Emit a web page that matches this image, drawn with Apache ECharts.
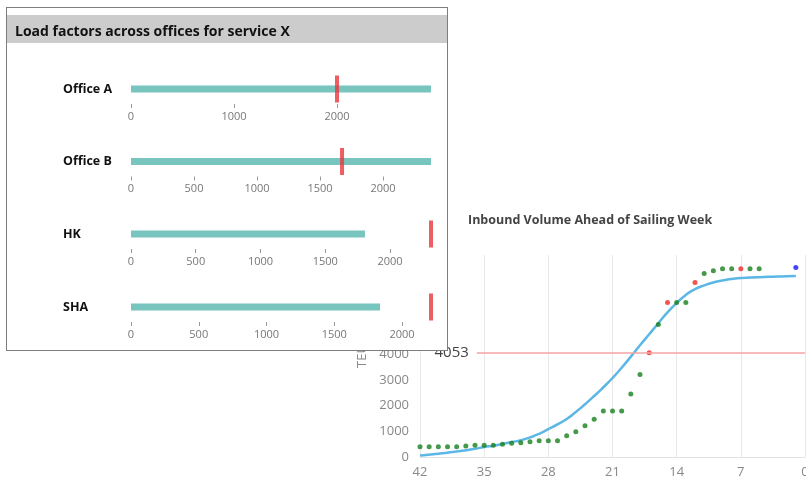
<!DOCTYPE html>
<html>
<head>
<meta charset="utf-8">
<script src="https://cdn.jsdelivr.net/npm/echarts@6/dist/echarts.min.js"></script>
<style>
  html, body { margin: 0; padding: 0; background: #fff; overflow: hidden; }
  #volume { position: absolute; left: 0; top: 0; width: 806px; height: 479px; }
  #load { position: absolute; left: 6px; top: 7px; width: 442px; height: 344px;
          box-sizing: border-box; border: 1px solid #7d7d7d; background: #fff; z-index: 2; }
</style>
</head>
<body>
<div id="volume"></div>
<div id="load"></div>
<script>
// ---- Load factors (bullet rows) ----
const offices = ['Office A', 'Office B', 'HK', 'SHA'];
const officeActual = [2913, 2381, 1807, 1838];
const officeTarget = [2000, 1675, 2317, 2214];
const officeTicks = [
  [0, 1000, 2000],
  [0, 500, 1000, 1500, 2000],
  [0, 500, 1000, 1500, 2000],
  [0, 500, 1000, 1500, 2000]
];

// ---- Inbound volume vs. days ahead of sailing ----
const curveDays = [42, 40, 38, 36, 35, 34, 33, 32, 31, 30, 29, 28, 27, 26, 25, 24, 23, 22, 21, 20,
                   19, 18, 17, 16, 15, 14, 13, 12, 11, 10, 9, 8, 7, 6, 5, 4, 3, 2, 1];
const curveTeu = [60, 130, 210, 320, 390, 440, 510, 580, 650, 760, 900, 1080, 1270, 1480, 1750, 2050, 2370, 2710, 3070, 3470,
                  3900, 4340, 4770, 5200, 5620, 5980, 6300, 6520, 6670, 6780, 6860, 6920, 6955, 6975, 6990, 7000, 7010, 7020, 7030];
const greenDays = [42, 41, 40, 39, 38, 37, 36, 35, 34, 33, 32, 31, 30, 29, 28, 27, 26, 25, 24, 23, 22, 21, 20, 19, 18,
                   16, 14, 13, 11, 10, 9, 8, 6, 5];
const greenTeu = [400, 400, 400, 400, 400, 427, 453, 453, 453, 492, 531, 557, 595, 634, 634, 634, 828, 984, 1217, 1463, 1786, 1786, 1786, 2447, 3210,
                  5153, 6007, 6007, 7133, 7236, 7314, 7314, 7314, 7314];
const redDays = [17, 15, 12, 7];
const redTeu = [4050, 6007, 6784, 7314];
const blueDays = [1];
const blueTeu = [7367];
const thresholdTeu = 4053;
const thresholdFromDay = 35.8;
const yLabelValues = [0, 1000, 2000, 3000, 4000, 5000, 6000, 7000];

const zip = (xs, ys) => xs.map((x, i) => [x, ys[i]]);
const plain = v => String(v);
const font = '"Open Sans", "DejaVu Sans", sans-serif';

// Right-hand line/scatter chart
const volume = echarts.init(document.getElementById('volume'), null, { renderer: 'canvas' });
volume.setOption({
  animation: false,
  textStyle: { fontFamily: font },
  title: {
    text: 'Inbound Volume Ahead of Sailing Week',
    left: 463, top: 209,
    textStyle: { fontSize: 12.5, fontWeight: 'bold', color: '#444', fontFamily: font }
  },
  grid: { left: 420, right: 1, top: 255, bottom: 22, outerBoundsMode: 'none', containLabel: false },
  xAxis: {
    type: 'value', inverse: true, min: 0, max: 42, interval: 7,
    axisLine: { show: true, lineStyle: { color: '#e2e2e2', width: 1 } },
    axisTick: { show: false },
    axisLabel: { color: '#888', fontSize: 13, margin: 9, formatter: plain },
    splitLine: { show: true, lineStyle: { color: '#e8e8e8', width: 1 } }
  },
  yAxis: {
    type: 'value', min: 0, max: 7850, interval: 1000,
    name: 'TEU', nameLocation: 'middle', nameGap: 51, nameRotate: 90,
    nameTextStyle: { color: '#888', fontSize: 13 },
    axisLine: { show: false },
    axisTick: { show: false },
    axisLabel: { color: '#888', fontSize: 13, margin: 11, customValues: yLabelValues, formatter: plain },
    splitLine: { show: false }
  },
  series: [
    {
      type: 'line', data: zip(curveDays, curveTeu), smooth: 0.6, showSymbol: false,
      lineStyle: { color: '#5cb7e6', width: 2.5 }, itemStyle: { color: '#5cb7e6' }, z: 2,
      markLine: {
        silent: true, symbol: ['none', 'none'],
        lineStyle: { color: '#f4a4a4', width: 1.5, type: 'solid' },
        label: { show: true, position: 'start', distance: 8, formatter: String(thresholdTeu), color: '#444', fontSize: 15 },
        data: [[{ coord: [thresholdFromDay, thresholdTeu] }, { coord: [0, thresholdTeu] }]]
      }
    },
    { type: 'scatter', data: zip(greenDays, greenTeu), symbolSize: 5, itemStyle: { color: '#16801a' }, z: 3 },
    { type: 'scatter', data: zip(redDays, redTeu), symbolSize: 5, itemStyle: { color: '#f02828' }, z: 3 },
    { type: 'scatter', data: zip(blueDays, blueTeu), symbolSize: 5, itemStyle: { color: '#1515ff' }, z: 3 }
  ]
});

// Left-hand panel: one bullet row per office
const rowCenters = [81, 153.5, 226, 299];
const load = echarts.init(document.getElementById('load'), null, { renderer: 'canvas' });
const grids = [], xAxes = [], yAxes = [], series = [];
offices.forEach((name, i) => {
  grids.push({ left: 124, width: 300, top: rowCenters[i] - 15, height: 30, outerBoundsMode: 'none', containLabel: false });
  xAxes.push({
    gridIndex: i, type: 'value', min: 0, max: Math.max(officeActual[i], officeTarget[i]),
    axisLine: { show: false },
    axisTick: { show: true, length: 4, lineStyle: { color: '#999' }, customValues: officeTicks[i] },
    axisLabel: { color: '#777', fontSize: 11, margin: 7, customValues: officeTicks[i], formatter: plain },
    splitLine: { show: false }
  });
  yAxes.push({
    gridIndex: i, type: 'category', data: [name],
    axisLine: { show: false }, axisTick: { show: false },
    axisLabel: { align: 'left', margin: 68, color: '#111', fontSize: 12.5, fontWeight: 'bold' }
  });
  series.push({
    type: 'bar', xAxisIndex: i, yAxisIndex: i, data: [officeActual[i]], barWidth: 7,
    itemStyle: { color: '#78c4bf' }, z: 2
  });
  series.push({
    type: 'scatter', xAxisIndex: i, yAxisIndex: i, data: [[officeTarget[i], name]],
    symbol: 'rect', symbolSize: [4, 27], itemStyle: { color: '#e8363c' }, z: 3
  });
});
load.setOption({
  animation: false,
  textStyle: { fontFamily: font },
  title: {
    text: 'Load factors across offices for service X',
    left: 3, top: 12,
    textStyle: { fontSize: 14, fontWeight: 'bold', color: '#111', fontFamily: font }
  },
  graphic: [{
    type: 'rect', z: -1, silent: true,
    shape: { x: 0, y: 7, width: 440, height: 28 },
    style: { fill: '#cccccc' }
  }],
  grid: grids, xAxis: xAxes, yAxis: yAxes, series: series
});
</script>
</body>
</html>
